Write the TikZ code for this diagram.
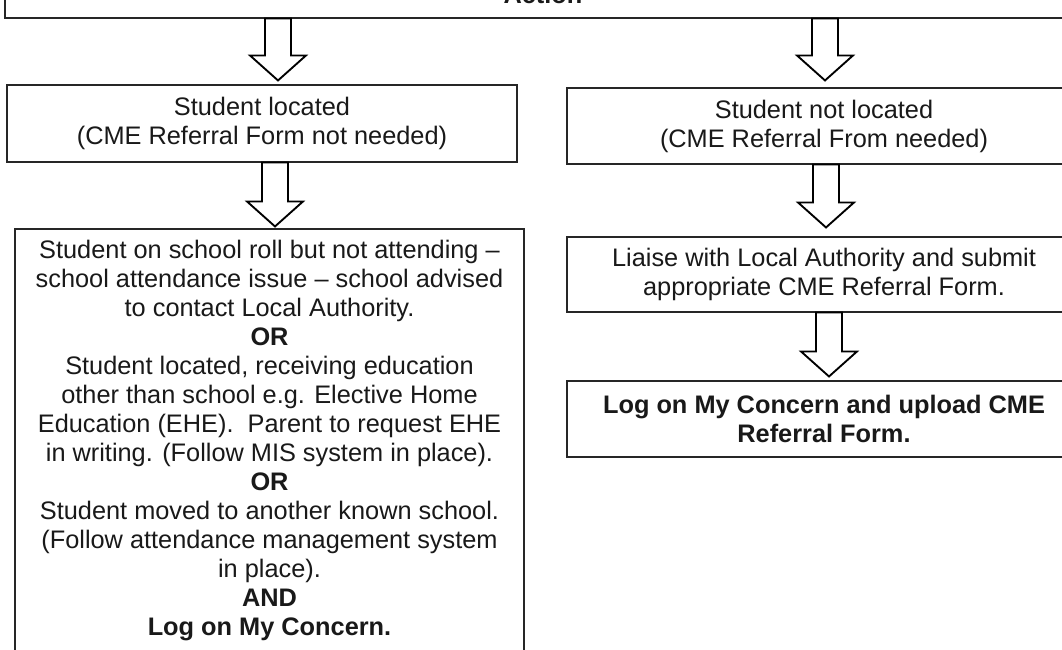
\documentclass[tikz,border=0pt]{standalone}
\usepackage{fontspec}
\setmainfont{Liberation Sans}
\usetikzlibrary{calc}
\newcommand\blkarrow[2]{%
  \draw[barrow] let \p1=(#1), \p2=(#2) in
    (\x1-9.75pt,\y1) -- (\x1+9.75pt,\y1) -- (\x1+9.75pt,\y2+18.75pt)
    -- (\x1+21pt,\y2+18.75pt) -- (\x1,\y2) -- (\x1-21pt,\y2+18.75pt)
    -- (\x1-9.75pt,\y2+18.75pt) -- cycle;}
\begin{document}
\begin{tikzpicture}[x=0.75pt,y=-0.75pt,
  box/.style={draw=black!85, line width=0.8pt, fill=white, align=center,
    inner sep=0pt, text=black!90, font=\fontsize{19}{21.75}\selectfont},
  boldbox/.style={box, font=\fontsize{19}{21.75}\selectfont\bfseries},
  barrow/.style={draw=black, line width=1.4pt, fill=white, line join=miter}]
\useasboundingbox (0,0) rectangle (1062,649);
\clip (0,0) rectangle (1062,649);

\node[boldbox, minimum width=1076*0.75pt, minimum height=48*0.75pt] (top) at (543,-6) {Action};

\node[box, minimum width=510*0.75pt, minimum height=77*0.75pt] (L1) at (262,123.5)
  {Student located\\(CME Referral Form not needed)};
\node[box, minimum width=514*0.75pt, minimum height=76*0.75pt] (R1) at (824,126)
  {Student not located\\(CME Referral From needed)};

\node[box, minimum width=509*0.75pt, minimum height=423*0.75pt] (L2) at (269.5,440.5)
  {Student on school roll but not attending –\\
   school attendance issue – school advised\\
   to contact Local Authority.\\
   \textbf{OR}\\
   Student located, receiving education\\
   other than school e.g. Elective Home\\
   Education (EHE).\ \ Parent to request EHE\\
   in writing. (Follow MIS system in place).\\
   \textbf{OR}\\
   Student moved to another known school.\\
   (Follow attendance management system\\
   in place).\\
   \textbf{AND}\\
   \textbf{Log on My Concern.}};

\node[box, minimum width=514*0.75pt, minimum height=75*0.75pt] (R2) at (824,274.5)
  {Liaise with Local Authority and submit\\appropriate CME Referral Form.};
\node[boldbox, minimum width=514*0.75pt, minimum height=76*0.75pt] (R3) at (824,419)
  {Log on My Concern and upload CME\\Referral Form.};

\coordinate (xa) at (278,0);
\coordinate (xb) at (825,0);
\coordinate (xc) at (275,0);
\coordinate (xd) at (826,0);
\coordinate (xe) at (829,0);

\blkarrow{top.south -| xa}{$(L1.north -| xa)+(0,-4)$}
\blkarrow{top.south -| xb}{$(R1.north -| xb)+(0,-7)$}
\blkarrow{L1.south -| xc}{$(L2.north -| xc)+(0,-2)$}
\blkarrow{R1.south -| xd}{$(R2.north -| xd)+(0,-9)$}
\blkarrow{R2.south -| xe}{$(R3.north -| xe)+(0,-4)$}
\end{tikzpicture}
\end{document}
